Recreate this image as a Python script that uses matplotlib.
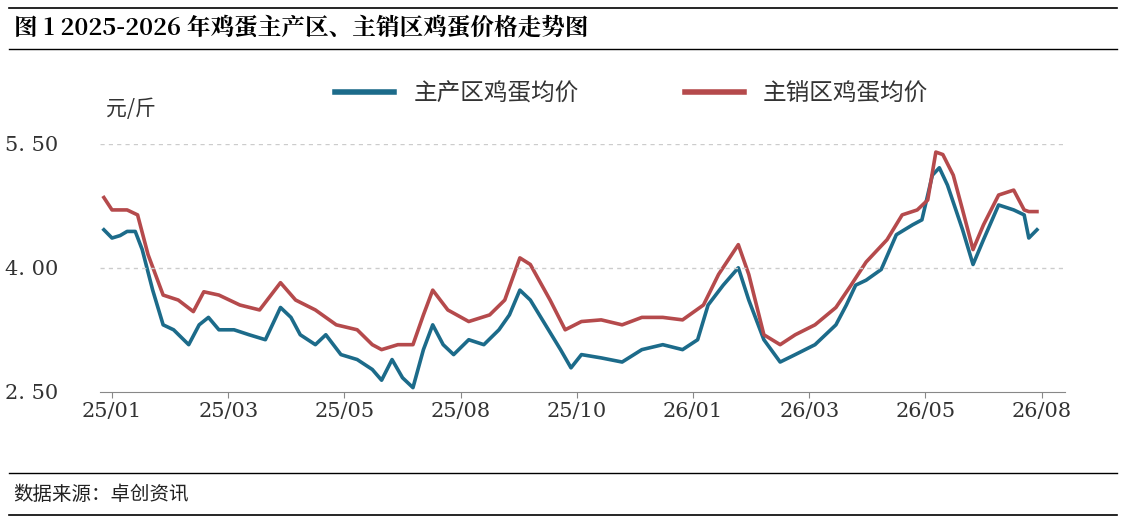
import matplotlib
matplotlib.use("Agg")
import matplotlib.pyplot as plt
from matplotlib.lines import Line2D

plt.rcParams['font.family'] = ['Noto Sans CJK SC', 'DejaVu Sans']

# x 位置：以刻度标签为单位（0 = 25/01, 1 = 25/03 ...）
tick_labels = ['25/01', '25/03', '25/05', '25/08', '25/10', '26/01', '26/03', '26/05', '26/08']

pos_main = [-0.07, 0, 0.07, 0.13, 0.20, 0.26, 0.35, 0.44, 0.53, 0.66, 0.75, 0.83, 0.92, 1.05, 1.18,
            1.32, 1.45, 1.54, 1.62, 1.75, 1.84, 1.97, 2.11, 2.24, 2.32, 2.41, 2.50, 2.59, 2.68, 2.76,
            2.85, 2.94, 3.07, 3.20, 3.33, 3.42, 3.51, 3.60, 3.73, 3.86, 3.95, 4.04, 4.21, 4.39, 4.56,
            4.74, 4.91, 5.04, 5.13, 5.26, 5.39, 5.48, 5.61, 5.75, 5.88, 6.05, 6.23, 6.32, 6.40, 6.49,
            6.62, 6.75, 6.89, 6.97, 7.06, 7.12, 7.19, 7.32, 7.41, 7.50, 7.63, 7.76, 7.85, 7.89, 7.96]
price_main = [4.46, 4.36, 4.39, 4.44, 4.44, 4.22, 3.73, 3.31, 3.25, 3.07, 3.31, 3.40, 3.25, 3.25, 3.19,
              3.13, 3.52, 3.40, 3.19, 3.07, 3.19, 2.95, 2.89, 2.77, 2.64, 2.89, 2.67, 2.55, 3.01, 3.31,
              3.07, 2.95, 3.13, 3.07, 3.25, 3.43, 3.73, 3.61, 3.31, 3.01, 2.79, 2.95, 2.91, 2.86, 3.01,
              3.07, 3.01, 3.13, 3.55, 3.79, 4.00, 3.61, 3.13, 2.86, 2.95, 3.07, 3.31, 3.55, 3.79, 3.85,
              3.98, 4.40, 4.52, 4.58, 5.12, 5.21, 5.00, 4.46, 4.04, 4.34, 4.76, 4.70, 4.64, 4.36, 4.46]

pos_sale = [-0.07, 0, 0.13, 0.22, 0.31, 0.44, 0.57, 0.70, 0.79, 0.92, 1.10, 1.27, 1.45, 1.58, 1.75,
            1.93, 2.11, 2.24, 2.32, 2.46, 2.59, 2.68, 2.76, 2.89, 3.07, 3.25, 3.38, 3.51, 3.60, 3.77,
            3.90, 4.04, 4.21, 4.39, 4.56, 4.74, 4.91, 5.09, 5.22, 5.39, 5.48, 5.61, 5.75, 5.88, 6.05,
            6.23, 6.36, 6.49, 6.67, 6.80, 6.93, 7.02, 7.09, 7.15, 7.24, 7.32, 7.41, 7.50, 7.63, 7.76,
            7.85, 7.89, 7.96]
price_sale = [4.85, 4.70, 4.70, 4.64, 4.16, 3.67, 3.61, 3.47, 3.71, 3.67, 3.55, 3.49, 3.82, 3.61, 3.49,
              3.31, 3.25, 3.07, 3.01, 3.07, 3.07, 3.43, 3.73, 3.49, 3.35, 3.43, 3.61, 4.12, 4.04, 3.61,
              3.25, 3.35, 3.37, 3.31, 3.40, 3.40, 3.37, 3.55, 3.92, 4.28, 3.92, 3.19, 3.07, 3.19, 3.31,
              3.52, 3.79, 4.07, 4.34, 4.64, 4.70, 4.82, 5.40, 5.37, 5.12, 4.70, 4.22, 4.52, 4.88, 4.94,
              4.70, 4.68, 4.68]

blue = '#1c6b8a'
red = '#b54a4c'

fig = plt.figure(figsize=(11.28, 5.21), dpi=100)
ax = fig.add_axes([0.089, 0.248, 0.855, 0.476])
ax.plot(pos_main, price_main, color=blue, lw=2.6)
ax.plot(pos_sale, price_sale, color=red, lw=2.6)

ax.set_xlim(-0.1, 8.2)
ax.set_ylim(2.5, 5.5)
ax.set_yticks([2.5, 4.0, 5.5])
ax.set_yticklabels(['2. 50', '4. 00', '5. 50'], fontsize=15, color='#333333', family='DejaVu Serif')
ax.set_xticks(range(len(tick_labels)))
ax.set_xticklabels(tick_labels, fontsize=15, color='#333333', family='DejaVu Serif')
ax.tick_params(axis='y', length=0, pad=30)
ax.tick_params(axis='x', length=4, color='#888888')
for s in ['top', 'right', 'left']:
    ax.spines[s].set_visible(False)
ax.spines['bottom'].set_color('#888888')
for v in [4.0, 5.5]:
    ax.axhline(v, color='#cccccc', lw=1, ls=(0, (3, 3)))
ax.text(-0.05, 5.85, '元/斤', fontsize=15, color='#333333', ha='left')

handles = [Line2D([], [], color=blue, lw=4), Line2D([], [], color=red, lw=4)]
fig.legend(handles, ['主产区鸡蛋均价', '主销区鸡蛋均价'], loc='center', bbox_to_anchor=(0.56, 0.82),
           ncol=2, frameon=False, fontsize=17, handlelength=2.5, columnspacing=4.5, labelcolor='#333333')

# 标题与来源
fig.add_artist(Line2D([0.008, 0.99], [0.985, 0.985], color='black', lw=1.2))
fig.add_artist(Line2D([0.008, 0.99], [0.905, 0.905], color='black', lw=1))
fig.text(0.012, 0.945, '图 1 2025-2026 年鸡蛋主产区、主销区鸡蛋价格走势图', fontsize=17, fontweight='bold',
         va='center', family=['Noto Serif CJK SC', 'Noto Sans CJK SC', 'DejaVu Serif'])
fig.add_artist(Line2D([0.008, 0.99], [0.092, 0.092], color='black', lw=1))
fig.add_artist(Line2D([0.008, 0.99], [0.012, 0.012], color='black', lw=1.2))
fig.text(0.012, 0.05, '数据来源：卓创资讯', fontsize=14, va='center', color='#222222')

fig.savefig('out.png', dpi=100)
